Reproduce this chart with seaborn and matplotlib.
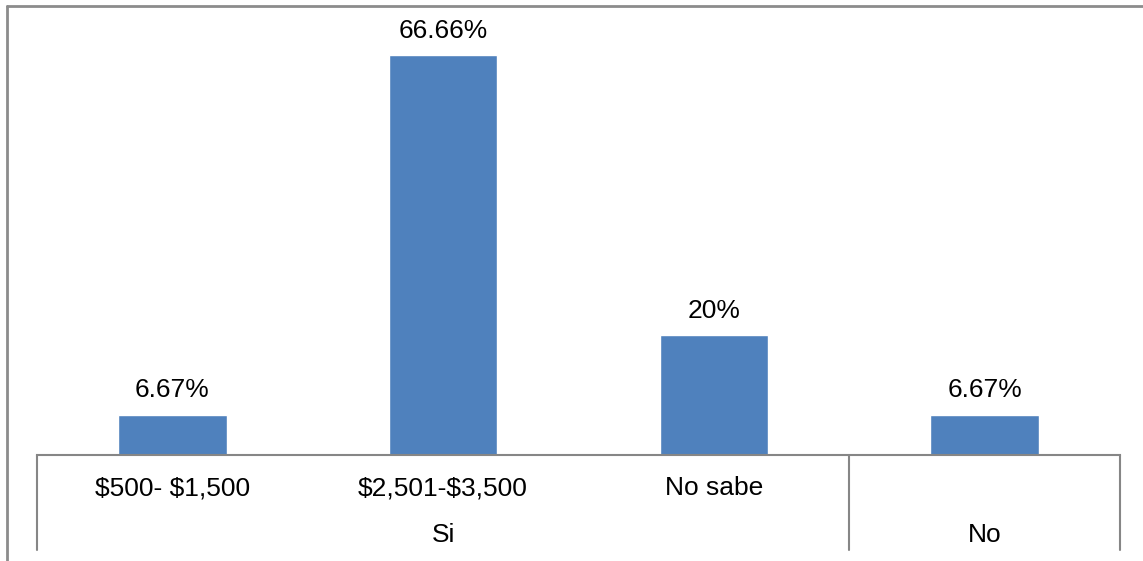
import matplotlib
matplotlib.use("Agg")
import matplotlib.pyplot as plt
from matplotlib.lines import Line2D
import pandas as pd
import seaborn as sns

# Survey answers: income range (inner level) grouped by yes/no (outer level)
subcategories = ["$500- $1,500", "$2,501-$3,500", "No sabe", ""]
groups = ["Si", "Si", "Si", "No"]
values = [6.67, 66.66, 20, 6.67]
value_labels = ["6.67%", "66.66%", "20%", "6.67%"]

sns.set_theme(style="white")
plt.rcParams["font.family"] = ["Liberation Sans", "DejaVu Sans"]
plt.rcParams["text.parse_math"] = False

FS = 19
W, H = 1143, 561
fig = plt.figure(figsize=(W / 100, H / 100), dpi=100)
ax = fig.add_axes([37 / W, (H - 455) / H, 1083 / W, 420 / H])

keys = [f"{g}|{s}|{i}" for i, (g, s) in enumerate(zip(groups, subcategories))]
df = pd.DataFrame({"key": keys, "value": values})
sns.barplot(data=df, x="key", y="value", order=keys, color="#4F81BD",
            saturation=1, width=0.4, ax=ax, errorbar=None)

ax.set_xlim(-0.5, len(keys) - 0.5)
ax.set_ylim(0, 70)
ax.set_xticks([])
ax.set_yticks([])
ax.set_xlabel("")
ax.set_ylabel("")
for side in ["top", "right", "left"]:
    ax.spines[side].set_visible(False)
ax.spines["bottom"].set_color("#868686")
ax.spines["bottom"].set_linewidth(1.5)

# value labels above bars
for i, (v, lab) in enumerate(zip(values, value_labels)):
    ax.annotate(lab, (i, v), xytext=(0, 9), textcoords="offset points",
                ha="center", va="bottom", fontsize=FS, color="black")

# two-level category axis
trans = ax.get_xaxis_transform()
for i, s in enumerate(subcategories):
    if s:
        ax.text(i, -0.0786, s, transform=trans, ha="center", va="center",
                fontsize=FS, color="black")

group_spans = []
start = 0
for i in range(1, len(groups) + 1):
    if i == len(groups) or groups[i] != groups[start]:
        group_spans.append((groups[start], start, i - 1))
        start = i
for name, a, b in group_spans:
    ax.text((a + b) / 2, -0.1905, name, transform=trans, ha="center",
            va="center", fontsize=FS, color="black")

bounds = [-0.5] + [b + 0.5 for _, _, b in group_spans]
for xb in bounds:
    ax.add_line(Line2D([xb, xb], [0, -95 / 420], transform=trans,
                       color="#868686", lw=1.5, clip_on=False))

# outer chart frame
fig.add_artist(Line2D([7 / W, 7 / W], [0, (H - 6) / H], color="#8c8c8c", lw=2))
fig.add_artist(Line2D([7 / W, 1], [(H - 6) / H, (H - 6) / H], color="#8c8c8c", lw=2))

fig.savefig("out.png", dpi=100)
